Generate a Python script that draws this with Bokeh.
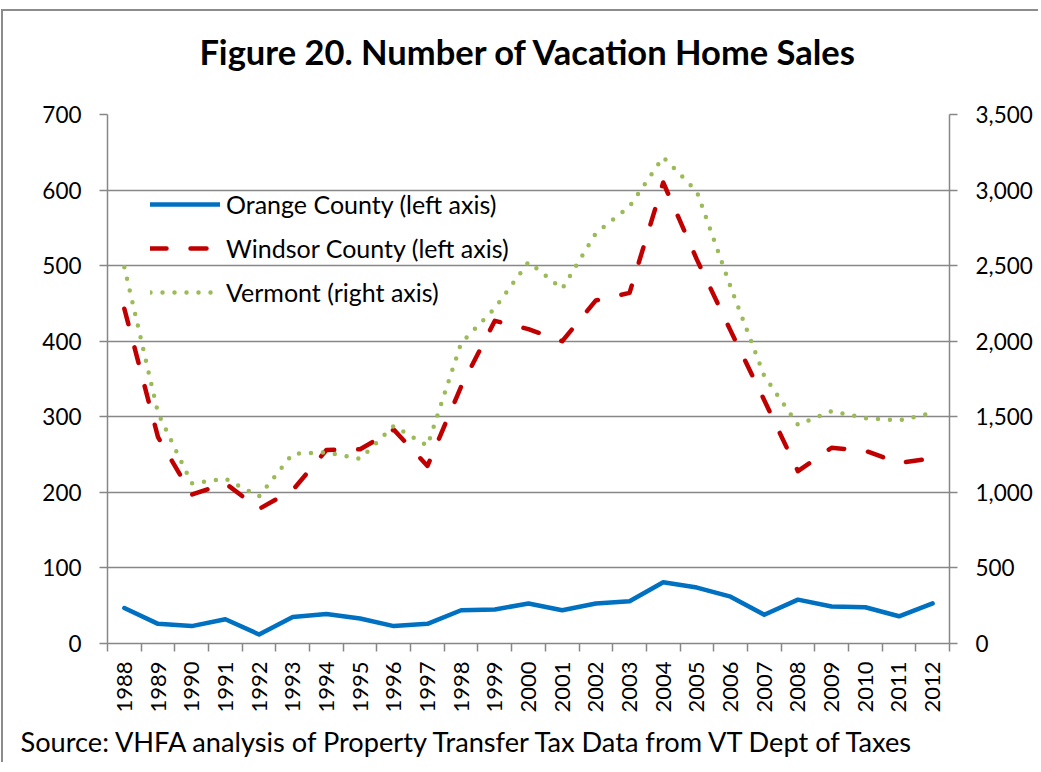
import math
from bokeh.plotting import figure
from bokeh.models import (Range1d, LinearAxis, FixedTicker, NumeralTickFormatter,
                          Grid, Legend, LegendItem, Title, ColumnDataSource)
from bokeh.embed import file_html
from bokeh.resources import INLINE

# ---------------- data ----------------
years = list(range(1988, 2013))
orange = [47, 26, 23, 32, 12, 35, 39, 33, 23, 26, 44, 45, 53,
          44, 53, 56, 81, 74, 62, 38, 58, 49, 48, 36, 53]
windsor = [443, 273, 197, 212, 178, 203, 256, 257, 283, 235, 340, 427, 416,
           400, 454, 464, 610, 508, 414, 322, 228, 259, 255, 239, 245]
vermont = [2490, 1525, 1060, 1090, 974, 1255, 1264, 1222, 1440, 1308, 1988, 2218, 2525,
           2347, 2715, 2891, 3218, 2990, 2360, 1770, 1447, 1537, 1491, 1476, 1526]
left_ticks = [0, 100, 200, 300, 400, 500, 600, 700]
right_ticks = [0, 500, 1000, 1500, 2000, 2500, 3000, 3500]
series_names = ["Orange County (left axis)", "Windsor County (left axis)", "Vermont (right axis)"]
title_text = "Figure 20. Number of Vacation Home Sales"
source_text = "Source: VHFA analysis of Property Transfer Tax Data from VT Dept of Taxes"

FONT = "Lato"
GRAY = "#878787"

n = len(years)
xc = [i + 0.5 for i in range(n)]
src = ColumnDataSource(dict(x=xc, orange=orange, windsor=windsor, vermont=vermont))

p = figure(width=1037, height=753, output_backend="svg", toolbar_location=None,
           title=None, x_range=Range1d(0, n), y_range=Range1d(0, 700),
           x_axis_type=None, y_axis_type=None,
           min_border_left=104, min_border_right=91, min_border_top=103, min_border_bottom=121)
p.styles = {"position": "relative", "left": "1px", "top": "9px",
            "border-left": "2px solid #8c8c8c", "border-top": "2px solid #8c8c8c"}
p.outline_line_color = None
p.background_fill_color = "white"
p.border_fill_color = "white"
p.extra_y_ranges = {"right": Range1d(0, 3500)}

# axes
left_ticker = FixedTicker(ticks=left_ticks)
yl = LinearAxis(ticker=left_ticker)
yr = LinearAxis(ticker=FixedTicker(ticks=right_ticks), y_range_name="right",
                formatter=NumeralTickFormatter(format="0,0"))
xb = LinearAxis(ticker=FixedTicker(ticks=xc, minor_ticks=list(range(n + 1))),
                major_label_overrides={c: str(y) for c, y in zip(xc, years)})
for ax in (yl, yr, xb):
    ax.axis_line_color = GRAY
    ax.axis_line_width = 1.5
    ax.major_tick_line_color = GRAY
    ax.major_tick_line_width = 1.5
    ax.major_tick_in = 0
    ax.major_tick_out = 8
    ax.minor_tick_line_color = None
    ax.major_label_text_font = FONT
    ax.major_label_text_color = "black"
    ax.major_label_text_font_size = "22.5px"
    ax.major_label_standoff = 18
xb.major_tick_line_color = None
xb.minor_tick_line_color = GRAY
xb.minor_tick_line_width = 1.5
xb.minor_tick_in = 0
xb.minor_tick_out = 8
xb.major_label_orientation = math.pi / 2
xb.major_label_standoff = 10
xb.major_label_text_font_size = "22px"
p.add_layout(yl, "left")
p.add_layout(yr, "right")
p.add_layout(xb, "below")
p.add_layout(Grid(dimension=1, ticker=left_ticker, grid_line_color=GRAY, grid_line_width=1.5))

# series
r_or = p.line("x", "orange", source=src, line_color="#0070C0", line_width=4.5,
              line_join="round", line_cap="round")
r_wi = p.line("x", "windsor", source=src, line_color="#C00000", line_width=4.5,
              line_dash="16 24", line_join="round", line_cap="round")
r_vt = p.line("x", "vermont", source=src, line_color="#9BBB59", line_width=4.5,
              line_dash="0 12", line_join="round", line_cap="round", y_range_name="right")

legend = Legend(items=[LegendItem(label=series_names[0], renderers=[r_or]),
                       LegendItem(label=series_names[1], renderers=[r_wi]),
                       LegendItem(label=series_names[2], renderers=[r_vt])],
                location=(43, 336), margin=0, padding=0, spacing=14,
                glyph_width=70, glyph_height=30, label_height=30, label_standoff=6,
                label_text_font=FONT, label_text_font_size="25px", label_text_color="black",
                background_fill_alpha=0, border_line_alpha=0)
p.add_layout(legend)

# spacer panel between the plot area and the title, then the title above it
p.add_layout(Title(text=" ", text_font=FONT, text_font_size="10px", standoff=29), "above")
p.add_layout(Title(text=title_text, align="center", text_font=FONT, text_font_style="bold",
                   text_font_size="34.5px", text_color="black", standoff=0), "above")
p.add_layout(Title(text=source_text, align="left", offset=-87, text_font=FONT,
                   text_font_style="normal", text_font_size="27.2px", text_color="black",
                   standoff=14), "below")

open("out.html", "w").write(file_html(p, INLINE))
